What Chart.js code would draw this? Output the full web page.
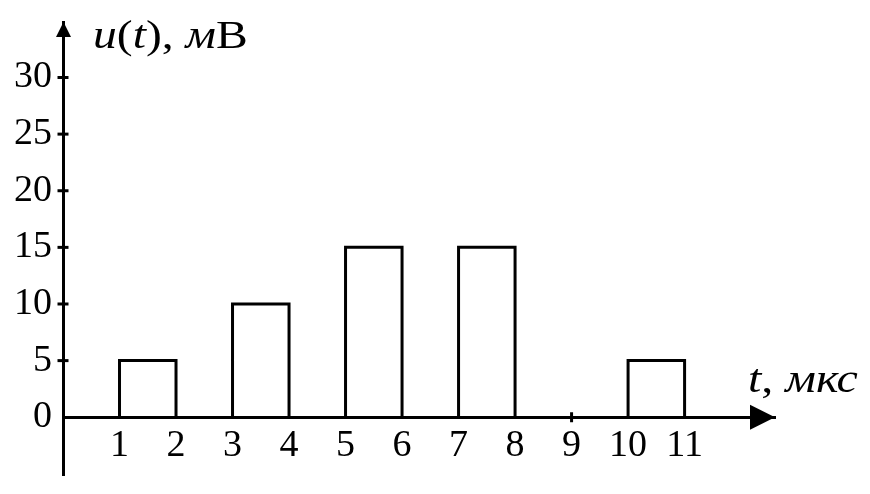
<!DOCTYPE html>
<html>
<head>
<meta charset="utf-8">
<script src="https://cdn.jsdelivr.net/npm/chart.js@4"></script>
<style>
  html, body { margin: 0; padding: 0; background: #fff; }
  #wrap { width: 870px; height: 494px; position: relative; }
</style>
</head>
<body>
<div id="wrap"><canvas id="c" width="870" height="494"></canvas></div>
<script>
// ---- data ----
const pulseStart = [1, 3, 5, 7, 10];      // t, мкс
const pulseEnd   = [2, 4, 6, 8, 11];      // t, мкс
const pulseAmp   = [5, 10, 15, 15, 5];    // u, мВ
const xTickValues = [1, 2, 3, 4, 5, 6, 7, 8, 9, 10, 11];
const yTickValues = [0, 5, 10, 15, 20, 25, 30];
const xTickMarks = [9];
const yTickMarks = [5, 10, 15, 20, 25, 30];
const yTitle = [['u', true], ['(', false], ['t', true], ['), ', false], ['м', true], ['В', false]];
const xTitle = [['t', true], [', ', false], ['мкс', true]];

// build the pulse outlines from the arrays
const points = [];
pulseStart.forEach((s, i) => {
  points.push({x: s, y: 0}, {x: s, y: pulseAmp[i]}, {x: pulseEnd[i], y: pulseAmp[i]}, {x: pulseEnd[i], y: 0}, {x: pulseEnd[i], y: null});
});

const FONT = '"Liberation Serif", "Times New Roman", serif';
const FS = 38;

function drawRich(ctx, x, y, segs, size, sx) {
  ctx.save();
  ctx.translate(x, y);
  ctx.scale(sx, 1);
  ctx.textBaseline = 'alphabetic';
  ctx.textAlign = 'left';
  ctx.fillStyle = '#000';
  let cx = 0;
  segs.forEach(([t, it]) => {
    ctx.font = (it ? 'italic ' : '') + size + 'px ' + FONT;
    ctx.fillText(t, cx, 0);
    cx += ctx.measureText(t).width;
  });
  ctx.restore();
}

const decor = {
  id: 'decor',
  afterDraw(chart) {
    const ctx = chart.ctx;
    const xs = chart.scales.x, ys = chart.scales.y;
    const ax = chart.chartArea.left + 0.5;
    const ay = ys.getPixelForValue(0);
    ctx.save();
    ctx.fillStyle = '#000';
    ctx.strokeStyle = '#000';
    ctx.lineWidth = 3;
    // y arrow
    const top = chart.chartArea.top;
    ctx.beginPath();
    ctx.moveTo(ax, top);
    ctx.lineTo(ax - 7.5, top + 15);
    ctx.lineTo(ax + 7.5, top + 15);
    ctx.closePath();
    ctx.fill();
    // x arrow
    const right = chart.chartArea.right;
    ctx.beginPath();
    ctx.moveTo(right, ay);
    ctx.lineTo(right - 25, ay - 12.5);
    ctx.lineTo(right - 25, ay + 12.5);
    ctx.closePath();
    ctx.fill();
    // y tick marks
    yTickMarks.forEach(v => {
      const p = ys.getPixelForValue(v);
      ctx.beginPath();
      ctx.moveTo(ax - 6, p);
      ctx.lineTo(ax + 5, p);
      ctx.stroke();
    });
    // x tick marks
    xTickMarks.forEach(v => {
      const p = xs.getPixelForValue(v);
      ctx.beginPath();
      ctx.moveTo(p, ay - 5);
      ctx.lineTo(p, ay + 5);
      ctx.stroke();
    });
    ctx.restore();
    drawRich(ctx, 93, 48, yTitle, 40, 1.19);
    drawRich(ctx, 748, 392, xTitle, 40, 1.2);
  }
};

new Chart(document.getElementById('c'), {
  type: 'line',
  data: {
    datasets: [{
      data: points,
      borderColor: '#000',
      borderWidth: 3,
      pointRadius: 0,
      tension: 0,
      spanGaps: false,
      fill: false,
      borderJoinStyle: 'miter'
    }]
  },
  options: {
    responsive: false,
    animation: false,
    events: [],
    layout: { padding: { left: 0, top: 22, right: 95, bottom: 19 } },
    plugins: { legend: { display: false }, tooltip: { enabled: false }, title: { display: false } },
    scales: {
      x: {
        type: 'linear',
        min: 0,
        max: 12.6,
        position: { y: 0 },
        grid: { display: false, drawTicks: false },
        border: { display: true, color: '#000', width: 3 },
        afterBuildTicks: s => { s.ticks = xTickValues.map(v => ({ value: v })); },
        afterFit: s => { s.height = 0; s.paddingLeft = 0; s.paddingRight = 0; s.paddingTop = 0; s.paddingBottom = 0; },
        ticks: {
          autoSkip: false, maxRotation: 0, minRotation: 0,
          padding: 6,
          color: '#000',
          font: { family: FONT, size: FS },
          callback: v => String(v)
        }
      },
      y: {
        type: 'linear',
        min: -5.1,
        max: 34.9,
        position: 'left',
        grid: { display: false, drawTicks: false },
        border: { display: true, color: '#000', width: 3 },
        afterBuildTicks: s => { s.ticks = yTickValues.map(v => ({ value: v })); },
        afterFit: s => { s.width = 63; s.paddingTop = 0; s.paddingBottom = 0; },
        ticks: {
          padding: 11,
          color: '#000',
          font: { family: FONT, size: FS },
          callback: v => String(v)
        }
      }
    }
  },
  plugins: [decor]
});
</script>
</body>
</html>
